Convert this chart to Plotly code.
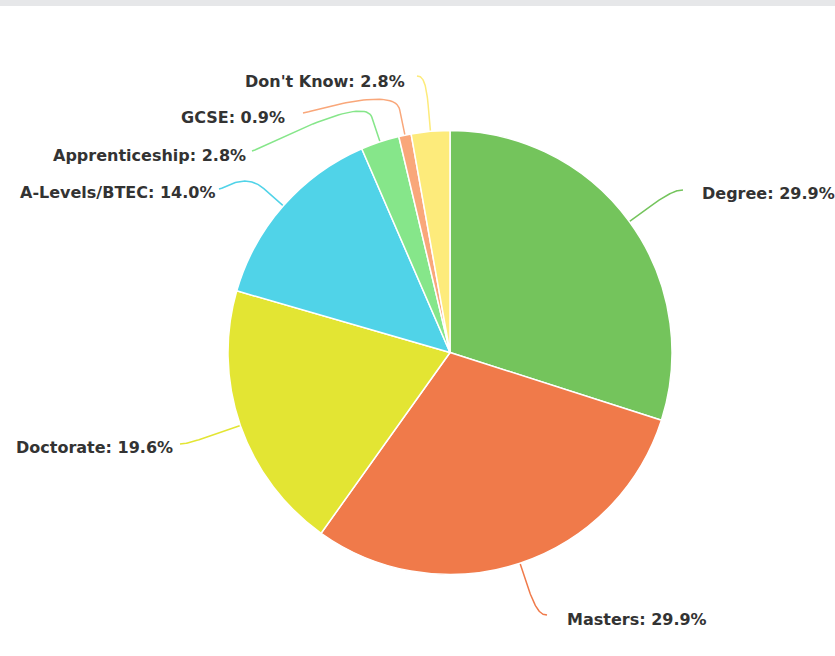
import numpy as np
import plotly.graph_objects as go

# Highest qualification of respondents (percent)
categories = ["Degree", "Masters", "Doctorate", "A-Levels/BTEC",
              "Apprenticeship", "GCSE", "Don't Know"]
shares = [29.9, 29.9, 19.6, 14.0, 2.8, 0.9, 2.8]
colors = ["#74c45c", "#f07a4a", "#e3e533", "#50d3e8",
          "#86e68a", "#f9a77a", "#fdeb7b"]

# label anchor (connector start) per slice, in page pixels, and text side
label_anchor = [(683, 190), (547, 615), (180, 444), (219, 189),
                (252, 151), (303, 113), (417, 76)]
label_text_pos = [(700, 193), (565, 619), (175, 447), (217, 192),
                  (248, 155), (287, 117), (407, 81)]
label_side = ["left", "left", "right", "right", "right", "right", "right"]

W, H = 835, 656
cx, cy, R = 450, 352.5, 222
BREAK = 26  # radial offset of connector bend

fig = go.Figure()

fig.add_trace(go.Pie(
    labels=categories, values=shares, sort=False, direction="clockwise",
    rotation=0, textinfo="none", hoverinfo="label+percent",
    marker=dict(colors=colors, line=dict(color="white", width=1.5)),
    domain=dict(x=[(cx - R) / W, (cx + R) / W],
                y=[1 - (cy + R) / H, 1 - (cy - R) / H]),
    showlegend=False,
))

total = sum(shares)
cum = np.cumsum([0] + shares[:-1])
mids = 2 * np.pi * (cum + np.array(shares) / 2) / total


def bezier(p0, p1, p2, p3, n=40):
    t = np.linspace(0, 1, n)[:, None]
    pts = ((1 - t) ** 3) * p0 + 3 * ((1 - t) ** 2) * t * p1 \
        + 3 * (1 - t) * t ** 2 * p2 + t ** 3 * p3
    return pts


for i, name in enumerate(categories):
    th = mids[i]
    d = np.array([np.sin(th), -np.cos(th)])
    touch = np.array([cx, cy]) + R * d
    brk = np.array([cx, cy]) + (R + BREAK) * d
    lab = np.array(label_anchor[i], dtype=float)
    sgn = -5 if label_side[i] == "left" else 5
    c1 = np.array([lab[0] + sgn, lab[1]])
    c2 = 2 * brk - touch
    curve = bezier(lab, c1, c2, brk)
    path = np.vstack([curve, touch])
    fig.add_trace(go.Scatter(
        x=path[:, 0], y=path[:, 1], mode="lines",
        line=dict(color=colors[i], width=1.5),
        hoverinfo="skip", showlegend=False,
    ))
    tx, ty = label_text_pos[i]
    fig.add_annotation(
        x=tx, y=ty, xref="x", yref="y", showarrow=False,
        text=f"<b>{name}: {shares[i]:.1f}%</b>",
        xanchor=label_side[i], yanchor="middle",
        font=dict(family="DejaVu Sans, sans-serif",
                  size=16, color="#333333"),
    )

fig.update_layout(
    width=W, height=H, margin=dict(l=0, r=0, t=0, b=0),
    paper_bgcolor="white", plot_bgcolor="rgba(0,0,0,0)",
    xaxis=dict(range=[0, W], visible=False, fixedrange=True,
               domain=[0, 1]),
    yaxis=dict(range=[H, 0], visible=False, fixedrange=True,
               domain=[0, 1]),
    shapes=[dict(type="rect", xref="paper", yref="paper",
                 x0=0, x1=1, y0=1 - 6 / H, y1=1,
                 fillcolor="#e6e7e9", line=dict(width=0), layer="above")],
)

fig.write_html("out.html")
